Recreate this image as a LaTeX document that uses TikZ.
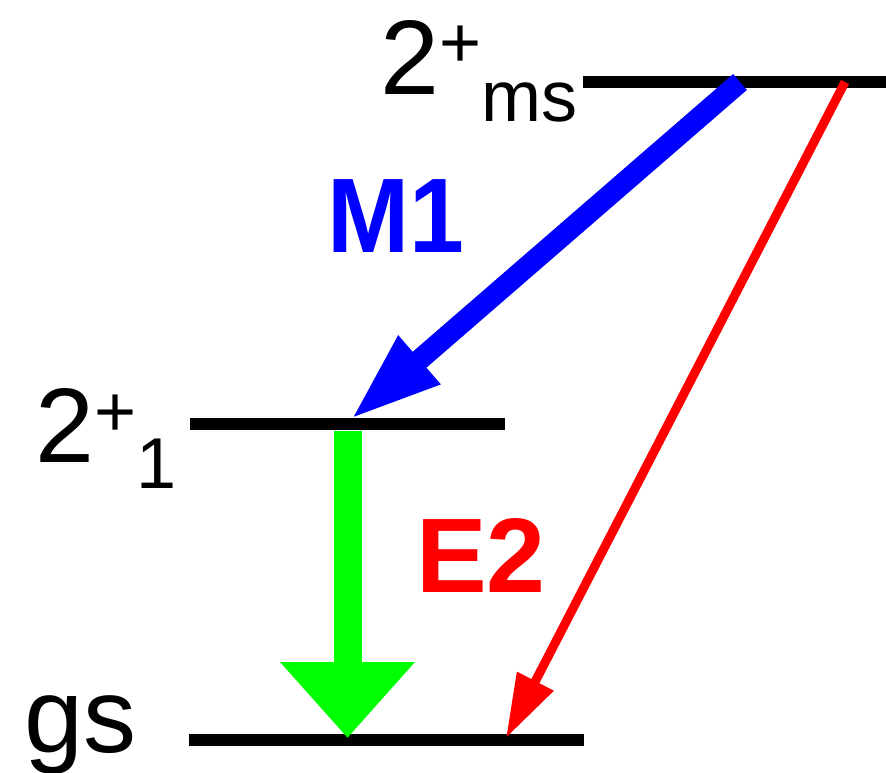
\documentclass[tikz,border=0pt]{standalone}
\usepackage{fontspec}
\setmainfont{Liberation Sans}
\usetikzlibrary{arrows.meta}
\newcommand\lvlsup[2]{\raisebox{#1pt}{\fontsize{72}{72}\selectfont #2}}
\newcommand\lvlsub[2]{\raisebox{-#1pt}{\fontsize{72}{72}\selectfont #2}}
\begin{document}
\begin{tikzpicture}[x=1pt,y=-1pt,
  level/.style={line width=12pt, black},
  lbl/.style={inner sep=0pt, anchor=base west, font=\fontsize{106}{110}\selectfont},
  trans/.style={inner sep=0pt, anchor=base west, font=\fontsize{106}{110}\selectfont\bfseries}]
\useasboundingbox (0,0) rectangle (886,773);
% level end points
\coordinate (msL) at (583,82);
\coordinate (msR) at (890,82);
\coordinate (oneL) at (190,424);
\coordinate (oneR) at (505,424);
\coordinate (gsL) at (189,740);
\coordinate (gsR) at (584,740);
\draw[level] (msL) -- (msR);
\draw[level] (oneL) -- (oneR);
\draw[level] (gsL) -- (gsR);
% labels
\node[lbl] (lms) at (380,95) {2\lvlsup{27}{+}\lvlsub{27}{ms}};
\node[lbl] (lone) at (35,462) {2\lvlsup{26}{+}\lvlsub{26}{1}};
\node[lbl] (lgs) at (24,752) {gs};
% transitions
\coordinate (bS) at (740,82);
\coordinate (bE) at (350,420);
\coordinate (gS) at (347.5,431);
\coordinate (gE) at (347.5,738);
\coordinate (rS) at (845,82);
\coordinate (rE) at (506,738);
\draw[blue, line width=21pt, -{Triangle[length=92pt,width=58pt]}] (bS) -- (bE);
\draw[green, line width=28pt, -{Triangle[length=76pt,width=130pt]}] (gS) -- (gE);
\draw[red, line width=9pt, -{Triangle[length=64pt,width=39pt]}] (rS) -- (rE);
\node[trans, text=blue] (m1) at (327,252) {\scalebox{0.93}[1]{M1}};
\node[trans, text=red] (e2) at (416,592) {E2};
\end{tikzpicture}
\end{document}
